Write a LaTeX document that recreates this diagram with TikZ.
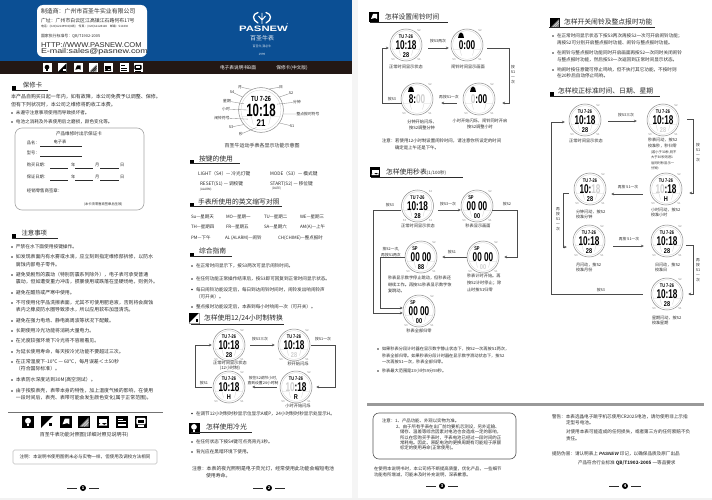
\documentclass[tikz,border=0pt]{standalone}
\usepackage{fontspec}
\usepackage{graphicx}
\usetikzlibrary{arrows.meta,calc}
\setmainfont{Noto Sans CJK SC}
\newfontfamily\lib{Liberation Sans}
\definecolor{hblue}{HTML}{0B4F94}
\definecolor{hblack}{HTML}{231815}
\definecolor{ink}{HTML}{2B2B2B}
\definecolor{wgray}{HTML}{8A8A8A}
\definecolor{flashc}{HTML}{CFCFCF}
\newcommand\fs[1]{\fontsize{#1}{#1}\selectfont}
\newcommand\dg[3]{\scalebox{1}[#2]{\fontsize{#1}{#1}\selectfont\lib\bfseries #3}}
\newcommand\flash[1]{\textcolor{flashc}{#1}}
\newcounter{tn}
\tikzset{
 txt/.style={anchor=west,inner sep=0pt,outer sep=0pt,font=\fs{5},text=ink},
 ctr/.style={txt,anchor=center},
 capt/.style={txt,anchor=center,font=\fs{4.2}},
 lab/.style={txt,anchor=center,font=\fs{3.8}},
 vlab/.style={txt,anchor=center,align=center,font=\fontsize{3.8}{5}\selectfont},
 headt/.style={txt,font=\fs{6.8}},
 wcase/.style={circle,draw=wgray,line width=.5pt,minimum size=32pt,inner sep=0pt},
 wthin/.style={draw=flashc,line width=.3pt},
 dig/.style={inner sep=0pt,outer sep=0pt,text=black},
 slab/.style={txt,anchor=center,font=\fs{2.8},text=wgray},
 flow/.style={draw=ink!85,line width=.8pt,-{Stealth[length=2.8pt,width=2.6pt]}},
 ul/.style={draw=ink,line width=.5pt},
 leader/.style={draw=wgray,line width=.35pt},
 cardbox/.style={draw=black!35,line width=.6pt,rounded corners=7pt},
 fld/.style={draw=ink,line width=.35pt},
}
\newcommand\Tx[4][]{\stepcounter{tn}\node[txt,#1] (t\arabic{tn}) at (#2,#3) {#4};}
\newcommand\Bu[4][]{\stepcounter{tn}\fill[ink] (#2-4,#3) circle[radius=.8pt];\node[txt,#1] (t\arabic{tn}) at (#2,#3) {#4};}
\newcommand\Sq[2]{\fill[black] (#1-1.6,#2-1.6) rectangle (#1+1.6,#2+1.6);}
\newcommand\Hd[7][]{\stepcounter{tn}\node[headt,#1] (t\arabic{tn}) at (#2,#3) {#4};\draw[ul] (#5,#7) -- (#6,#7);}
\newcommand\watchcore[7][1]{\begin{scope}[shift={(#3,#4)},scale=#1,transform shape]
 \node[wcase] (#2) at (0,0) {};
 \draw[wthin] (0,0) circle[radius=14.3pt];
 \draw[wthin] (-14,4.5)--(-7,4.5)--(-5.5,10.5) (14,4.5)--(7,4.5)--(5.5,10.5);
 \node[dig] (#2-t) at (0,-8.2) {\dg{3.9}{1.35}{#5}};
 \node[dig] (#2-m) at (0,.4) {\dg{8.2}{1.55}{#6}};
 \node[dig] (#2-b) at (0,9.6) {\dg{5.6}{1.25}{#7}};
\end{scope}}
\newcommand\watch[6]{\watchcore{#1}{#2}{#3}{#4}{#5}{#6}
 \node[slab] (#1-s2) at (#2+13,#3-15) {S2};
 \node[slab] (#1-s3) at (#2-13,#3+14.5) {S3};
 \node[slab] (#1-s1) at (#2+13,#3+14.5) {S1};}
\newcommand\bellat[2]{\fill[black] (#1-3,#2+2) -- (#1-2,#2-2) .. controls (#1-1.5,#2-4) and (#1+1.5,#2-4) .. (#1+2,#2-2) -- (#1+3,#2+2) -- cycle;}
\newcommand\SP{\hbox to 5.4pt{\fontsize{4}{4}\selectfont\lib\bfseries SP\hfil}\hspace{12pt}}
\newcommand\Pg[3]{\node[circle,fill=black,text=white,inner sep=0pt,minimum size=6pt,font=\fs{4}\bfseries] (pg#1) at (#2,#3) {#1};
 \draw[draw=ink,line width=.4pt] ([xshift=-3pt]pg#1.west) -- ++(-10,0) ([xshift=3pt]pg#1.east) -- ++(10,0);}
\newcommand\Icon[6]{\begin{scope}[shift={(#1,#2)},scale=#3,transform shape]
 \fill[#5] (-5,-5) rectangle (5,5);
 \ifcase#4\or
  \fill[#6] (0,-1) circle[radius=2.6pt]; \fill[#6] (-1.2,1.5) rectangle (1.2,3.6);
 \or
  \fill[#6] (-5,5) -- (5,-5) -- (5,5) -- cycle; \fill[#5] (1.5,1.2) rectangle (4,3.5);
 \or
  \fill[#6] (-3,2) -- (-1,-3) -- (3,-3) -- (3,2) -- (1,1) -- cycle;
 \or
  \fill[#6!55!#5] (-4,4) -- (4,-4) -- (4,4) -- cycle; \draw[#6,line width=.3pt] (-2,4) -- (4,-2) (0,4) -- (4,0);
 \or
  \fill[#6] (-3.5,-2.5) rectangle (3.5,.6); \fill[#6] (-3.5,2) -- (-1.5,.6) -- (1,2.6) -- (3.5,1) -- (3.5,3.2) -- (-3.5,3.2) -- cycle;
 \or
  \fill[#6] (-3.5,-.5) rectangle (3.5,.2); \fill[#6] (-3.5,-2.8) rectangle (1,-2.1); \fill[#6] (-3.5,1.8) rectangle (3.5,3.2);
 \or
  \fill[#6,rounded corners=1pt] (-4,-3.5) rectangle (4,2); \fill[#5] (-2.5,-2) rectangle (2.5,.5); \fill[#6] (-3,3) rectangle (3,4);
 \fi
\end{scope}}
\begin{document}
\begin{tikzpicture}[x=1pt,y=-1pt]
\useasboundingbox (0,0) rectangle (712,500);
\fill[white] (0,0) rectangle (712,500);
\fill[black!4] (352,0) rectangle (358,500);
\fill[black!5] (0,498) rectangle (712,500);
% header
\fill[hblue] (0,0) rectangle (352,61);
\fill[hblack] (0,61) rectangle (352,74);
\node[fill=white,rounded corners=6pt,minimum width=110pt,minimum height=52pt,inner sep=0pt] (addr) at (92,31) {};
\Tx[font=\fs{5.9}]{41}{11}{制造商：广州市百圣牛实业有限公司}
\Tx[font=\fs{4.9}]{41}{20.5}{广址：广州市白云区江高镇江石路何布17号}
\Tx[font=\fs{2.9}]{41}{27}{电话：(020)62149900(8线)　传真：(020)61128128　邮编：510430}
\Tx[font=\fs{3.9}]{41}{36}{国家执行标准号：QB/T1902-2005}
\Tx[font=\fs{7}\lib]{41}{44.5}{\scalebox{1.08}[1]{HTTP://WWW.PASNEW.COM}}
\Tx[font=\fs{7}\lib]{41}{52}{\scalebox{1.27}[1]{E-mail:sales@pasnew.com}}
\foreach \ix/\n in {47/1,62/2,78/3,93/4,108/5,124/6,138/7}{\Icon{\ix}{68}{.9}{\n}{white}{black}}
% logo
\draw[white,line width=1.3pt,line cap=round] (258,12.5) .. controls (252,14) and (252,20) .. (258,23);
\draw[white,line width=1.3pt,line cap=round] (266,12.5) .. controls (272,14) and (272,20) .. (266,23);
\draw[white,line width=.9pt] (262,13) -- (262,24) (258.5,16) -- (262,20) -- (265.5,16);
\node[dig,text=white] (brand) at (263.5,28.5) {\scalebox{1.45}[1]{\fs{7.8}\lib\bfseries PASNEW}};
\Tx[text=white,font=\fs{2.5},anchor=center]{287.5}{24.5}{®}
\Tx[ctr,text=white!90!hblue,font=\fs{6}]{262}{38}{百圣牛表}
\Tx[ctr,text=white!85!hblue,font=\fs{3}]{262}{47}{百圣牛,我必牛}
\Tx[ctr,text=white!85!hblue,font=\fs{3}]{262}{54}{1999}
\Tx[ctr,text=white,font=\fs{4.7}]{238}{67.5}{电子表说明书B面}
\Tx[ctr,text=white,font=\fs{4.7}]{292}{67.5}{保修卡(中文版)}
% page 1
\Sq{14}{88}
\Hd[font=\fs{6.4}]{23}{85}{保修卡}{12}{48}{90.5}
\Tx{11}{97}{本产品自购买日起一年内，如有故障，本公司免费予以调整、保修。}
\Tx{11}{104.5}{但有下列状况时，本公司之维修将酌收工本费。}
\Bu[font=\fs{4.6}]{16}{113}{未遵守注意事项使用而导致损坏者。}
\Bu[font=\fs{4.6}]{16}{122}{电池之消耗及外表使用后之磨损，颜色变化等。}
\node[cardbox,minimum width=129pt,minimum height=82pt,inner sep=0pt] (warranty) at (79.5,169) {};
\Tx[ctr,font=\fs{4.6}]{79}{134}{产品维修时出示保证卡}
\Tx[font=\fs{4.2}]{27}{143}{品名：}
\Tx[ctr,font=\fs{4.2}]{60}{141.5}{电子表}
\Tx[font=\fs{4.2}]{27}{153}{型号：}
\Tx[font=\fs{4.2}]{27}{165}{购买日期：}
\Tx[font=\fs{4.2}]{71}{165}{年}
\Tx[font=\fs{4.2}]{95}{165}{月}
\Tx[font=\fs{4.2}]{120}{165}{日}
\Tx[font=\fs{4.2}]{27}{177}{保证日期：}
\Tx[font=\fs{4.2}]{71}{177}{年}
\Tx[font=\fs{4.2}]{95}{177}{月}
\Tx[font=\fs{4.2}]{120}{177}{日}
\Tx[font=\fs{4.4}]{27}{191}{经销零售商签章：}
\Tx[font=\fs{3.3}]{84}{204}{(本卡须零售商签章后生效)}
\draw[fld] (40,146) -- (82,146) (40,156) -- (82,156)
 (50,168) -- (68,168) (75,168) -- (93,168) (100,168) -- (119,168)
 (50,180) -- (68,180) (75,180) -- (93,180) (100,180) -- (119,180);
\Sq{14}{236}
\Hd[font=\fs{6.4}]{21.5}{233}{注意事项}{12}{58}{238}
\Bu[font=\fs{4.7}]{16}{247}{严禁在水下面使用按键操作。}
\Bu[font=\fs{4.9}]{16}{257}{如发现表面内有水雾或水滴，应立刻到指定维修部拆修，以防水}
\Tx[font=\fs{4.9}]{16}{264.5}{腐蚀内部电子零件。}
\Bu[font=\fs{4.9}]{16}{275}{避免受剧烈的震动（特别防震系列除外），电子表可承受普通}
\Tx[font=\fs{4.9}]{16}{282}{震动，但如遭受重力冲击，掼暴使用或跌落在坚硬场地，则例外。}
\Bu[font=\fs{4.9}]{16}{293}{避免在酷热或严寒中使用。}
\Bu[font=\fs{4.9}]{16}{303}{不可使用化学品洗擦表面，尤其不可使用肥皂液，否则将会腐蚀}
\Tx[font=\fs{4.9}]{16}{310}{表内之橡皮防水圈导致渗水，所以应用软布加湿清洗。}
\Bu[font=\fs{4.9}]{16}{321}{避免在强力电场、静电高周波等状况下配戴。}
\Bu[font=\fs{4.9}]{16}{331}{长期使用冷光功能将消耗大量电力。}
\Bu[font=\fs{4.9}]{16}{341}{在光度较强环境下冷光将不容易看见。}
\Bu[font=\fs{4.9}]{16}{352}{为延长使用寿命，每天按冷光功能不要超过三次。}
\Bu[font=\fs{4.9}]{16}{362}{在正常温度下-10℃ — 60℃，每月误差＜±50秒}
\Tx[font=\fs{4.9}]{16}{369}{（符合国际标准）。}
\Bu[font=\fs{4.9}]{16}{380}{本表防水深度达到30M(高空测试）。}
\Bu[font=\fs{4.9}]{16}{391}{由于按胶表壳，表带本身的特性，加上温度气候的影响，在使用}
\Tx[font=\fs{4.9}]{16}{398}{一段时间后，表壳、表带可能会发生颜色变化(属于正常范围)。}
\draw[draw=black!55,line width=1pt] (8,412.5) -- (163,412.5);
\foreach \ix/\n in {28/1,47/2,66/3,84/4,103/5,122/6,141/7}{\Icon{\ix}{422}{1.15}{\n}{black}{white}}
\Tx[ctr,font=\fs{5}]{84}{434.5}{百圣牛表功能对照图(详细对照见说明书)}
\node[draw=black!25,line width=.6pt,rounded corners=1.5pt,minimum width=144pt,minimum height=14pt,inner sep=0pt] (note1) at (85,457) {};
\Tx[ctr,font=\fs{4.5}]{85}{457}{注明：本说明书使用图例未必与实物一样，但使用及调校方法相同}
\Pg{1}{83}{488}
% page 2 main watch
\watchcore[1.4]{mw}{261}{110}{TU 7-26}{10:18}{21}
\node[lab] (ma) at (240,87) {月};
\node[lab] (mb) at (281,87) {日};
\node[lab] (mc) at (232,92) {S4};
\node[lab] (md) at (291,93) {S2};
\node[lab] (me) at (227,101) {星期};
\node[lab] (mf) at (297,102) {分钟};
\node[lab] (mg) at (226,109) {小时};
\node[lab] (mh) at (308,114) {整点报时符号};
\node[lab] (mi) at (222,118) {闹铃符号};
\node[lab] (mj) at (231,127) {S3};
\node[lab] (mk) at (292,126) {S1};
\node[lab] (ml) at (241,134) {秒};
\draw[leader] (ma) -- (mw.115) (mb) -- (mw.68) (mc) -- (mw.145) (md) -- (mw.35) (me) -- ($(mw.center)!.8!(mw.160)$) (mf) -- ($(mw.center)!.75!(mw.20)$)
 (mg) -- ($(mw.center)!.6!(mw.180)$) (mh) -- (mw.-10) (mi) -- ($(mw.center)!.7!(mw.215)$) (mj) -- (mw.220) (mk) -- (mw.-35) (ml) -- ($(mw.center)!.8!(mw.255)$);
\Tx[ctr,font=\fs{5}]{262}{146}{百圣牛运动手表各显示功能示意图}
\Sq{192}{162}
\Hd{199}{159}{按键的使用}{190}{240}{163.5}
\Tx[font=\fs{4.7}]{198}{174}{LIGHT（S4）— 冷光灯键}
\Tx[font=\fs{4.7}]{270}{174}{MODE（S3）— 模式键}
\Tx[font=\fs{4.7}]{200}{184}{RESET(S1) — 调校键}
\Tx[font=\fs{3}]{200}{190}{(ALARM)}
\Tx[font=\fs{4.7}]{270}{184}{START(S2) — 移位键}
\Tx[font=\fs{3}]{272}{189}{(DATE)}
\Sq{192}{205}
\Hd{198}{202}{手表所使用的英文缩写对照}{190}{282}{206.5}
\Tx[font=\fs{4.5}]{191}{217}{Su—星期天}
\Tx[font=\fs{4.5}]{226}{217}{MO—星期一}
\Tx[font=\fs{4.5}]{264}{217}{TU—星期二}
\Tx[font=\fs{4.5}]{300}{217}{WE—星期三}
\Tx[font=\fs{4.5}]{191}{227}{TH—星期四}
\Tx[font=\fs{4.5}]{226}{227}{FR—星期五}
\Tx[font=\fs{4.5}]{264}{227}{SA—星期六}
\Tx[font=\fs{4.5}]{300}{227}{AM(A)—上午}
\Tx[font=\fs{4.5}]{191}{238}{PM—下午}
\Tx[font=\fs{4.5}]{225}{238}{AL (ALARM)—闹铃}
\Tx[font=\fs{4.5}]{278}{238}{CH(CHIME)—整点报时}
\Sq{192}{254.5}
\Hd{199}{251}{综合指南}{190}{232}{256}
\Bu[font=\fs{4.6}]{196}{266}{在正常时间显示下，按S3两次可显示闹铃时间。}
\Bu[font=\fs{4.6}]{196}{279}{在任何功能正常操作结束后，按S3即可回复到正常时间显示状态。}
\Bu[font=\fs{4.6}]{196}{289.5}{每日闹铃功能设定后，每日到达闹铃时间时，闹铃发出响闹铃声}
\Tx[font=\fs{4.6}]{196}{297}{（可开关）。}
\Bu[font=\fs{4.6}]{196}{307}{整点报时功能设定后，本表到每小时响闹一次（可开关）。}
\Icon{194}{318}{1.1}{2}{black}{white}
\Hd{204}{318}{怎样使用12/24小时制转换}{191}{284}{324}
\watch{a1}{229}{345}{TU 7-26}{10:18}{28}
\watch{a2}{294}{345}{TU 7-26}{10:18}{\flash{28}}
\watch{a3}{296}{387}{TU 7-26}{\flash{10}:18}{R}
\watch{a4}{229}{387}{TU 7-26}{10:18}{H}
\Tx[capt]{230}{362.5}{正常时间显示状态}
\Tx[capt]{230}{368}{(12小时制)}
\Tx[capt]{298}{364}{秒开始闪烁}
\Tx[capt]{298}{406}{小时开始闪烁}
\Tx[lab]{260}{339}{按S3三次}
\Tx[lab]{323}{339}{按S1一次}
\Tx[lab]{263}{378}{按住S2调节小时,}
\Tx[lab]{263}{383}{直到设置24小时制}
\Tx[lab]{204}{383}{按S1}
\draw[flow] ([xshift=5pt]a1.east) -- ([xshift=-3pt]a2.west);
\draw[flow] ([xshift=1pt]a2.east) -- (335,345) |- ([xshift=4pt]a3.east);
\draw[flow] ([xshift=-3pt]a3.west) -- ([xshift=7pt]a4.east);
\draw[flow] ([xshift=-1pt]a4.west) -- (195,387) |- ([xshift=-1pt]a1.west);
\Bu[font=\fs{4.6}]{196}{413.5}{在调节12小时制时秒显示位显示A或P，24小时制时秒显示处显示H。}
\Icon{194}{428}{1.1}{1}{black}{white}
\Hd{206}{427}{怎样使用冷光}{191}{252}{432}
\Bu[font=\fs{4.6}]{196}{442}{在任何状态下按S4键可点亮背光3秒。}
\Bu[font=\fs{4.6}]{196}{452}{背光应在黑暗环境下使用。}
\Tx[font=\fs{4.9}]{192}{469}{注意：本表的夜光照明是电子荧光灯，经常使用此功能会缩短电池}
\Tx[font=\fs{4.9}]{206}{476}{使用寿命。}
\Pg{2}{269}{488}
% page 3 alarm
\Icon{374}{17}{1}{3}{black}{white}
\Hd{385}{17}{怎样设置闹铃时间}{370}{448}{22}
\watch{b1}{406}{45}{TU 7-26}{10:18}{28}
\watch{b2}{467}{45}{}{0:00}{}
\watch{b3}{479}{99}{}{\flash{0}:00}{}
\watch{b4}{417}{99}{}{8:\flash{00}}{}
\bellat{461}{36}\bellat{473}{90}\bellat{411}{90}
\Tx[capt]{406}{67}{正常时间显示状态}
\Tx[capt]{468}{67}{闹铃时间显示画面}
\Tx[capt]{480}{120.5}{小时开始闪烁，闹铃同时开启}
\Tx[capt]{480}{127}{按S2调整小时}
\Tx[capt]{422}{122}{分钟开始闪烁，}
\Tx[capt]{422}{128}{按S2调整分钟}
\Tx[lab]{438}{41}{按S3两次}
\Tx[vlab]{513}{75}{按\\S1\\一\\次}
\Tx[lab]{449}{97}{再按S1一次}
\Tx[lab]{392}{99}{按S3}
\draw[flow] ([shift={(6pt,-3pt)}]b1.east) -- ([shift={(-2pt,-3pt)}]b2.west);
\draw[flow] ([shift={(4pt,-3pt)}]b2.east) -- (509,48) |- ([shift={(7pt,-4pt)}]b3.east);
\draw[flow] ([shift={(-6pt,-4pt)}]b3.west) -- ([shift={(8pt,-4pt)}]b4.east);
\draw[flow] ([shift={(1pt,-4pt)}]b4.west) -- (382,103) |- ([shift={(-1pt,-3pt)}]b1.west);
\Tx[font=\fs{4.4}]{382}{141}{注意：若使用12小时制设置闹铃时间，请注意你所设定的时间}
\Tx[font=\fs{4.4}]{395}{148}{确定是上午还是下午。}
% stopwatch
\Icon{375}{172}{1}{5}{black}{white}
\Hd{386}{172}{怎样使用秒表\fs{4.5}(1/100秒)}{371}{463}{177}
\watch{c1}{417.5}{206}{TU 7-26}{10:18}{28}
\watch{c2}{477}{206}{\SP}{00 00}{00}
\watch{c3}{483}{257}{\SP}{00 00}{\flash{00}}
\watch{c4}{421}{257}{\SP}{00 00}{88}
\watch{c5}{419}{311}{\SP}{00 00}{00}
\Tx[capt]{418}{226}{正常时间显示状态}
\Tx[capt]{478}{226}{秒表显示画面}
\Tx[font=\fs{4.2}]{388}{278}{秒表显示数字停止跳动，但秒表还}
\Tx[font=\fs{4.2}]{388}{284.5}{继续工作。再按S1秒表显示数字恢}
\Tx[font=\fs{4.2}]{388}{291}{复跳动。}
\Tx[font=\fs{4.2}]{467}{276}{秒表计时开始。再}
\Tx[font=\fs{4.2}]{467}{283}{按S2计时停止；除}
\Tx[font=\fs{4.2}]{467}{290}{止时按S1归零}
\Tx[capt]{419}{331}{秒表全部归零}
\Tx[lab]{448}{204}{按S3一次}
\Tx[lab]{507}{204}{按S2}
\Tx[lab]{452}{252}{按S1}
\Tx[lab]{390}{205}{按S3}
\Tx[lab]{391}{249}{按S2一次,}
\Tx[lab]{391}{255}{再按S1两次}
\draw[flow] ([shift={(4pt,-4pt)}]c1.east) -- ([shift={(0pt,-4pt)}]c2.west);
\draw[flow] ([shift={(-1pt,-4pt)}]c2.east) -- (517,210) |- ([xshift=5pt]c3.east);
\draw[flow] ([xshift=-0pt]c3.west) -- ([xshift=5pt]c4.east);
\draw[flow] ([yshift=-4pt]c1.west) -- (373,210) |- ([shift={(-0pt,-2pt)}]c5.west);
\draw[flow] ([xshift=-0pt]c4.west) -- (380,257) |- ([shift={(0pt,3pt)}]c5.west);
\Bu[font=\fs{4.2}]{382}{349}{如果秒表分段计时器在显示数字静止状态下，按S2一次再按S1两次，}
\Tx[font=\fs{4.2}]{382}{355.5}{秒表全部归零。如果秒表分段计时器在显示数字滑动状态下，按S2}
\Tx[font=\fs{4.2}]{382}{361.5}{一次再按S1一次，秒表全部归零。}
\Bu[font=\fs{4.2}]{382}{371}{秒表最大范围是23小时59分59秒。}
\draw[draw=black!40,line width=2.4pt] (367,404.5) -- (704,404.5);
\node[draw=ink!80,line width=.6pt,rounded corners=6pt,minimum width=143pt,minimum height=46pt,inner sep=0pt] (note3) at (444.5,436) {};
\Tx[font=\fs{4.4}]{382}{421}{注意：1、产品功能、外观以实物为准。}
\Tx[font=\fs{4.4}]{396}{426.5}{2、由于所有手表在出厂前均要机芯测设，另外运输、}
\Tx[font=\fs{4.4}]{400}{432}{储存、温差等综合因素对电池也会造成一定的影响，}
\Tx[font=\fs{4.4}]{400}{437.5}{所以在您购买手表时，手表电池已经过一段时间的正}
\Tx[font=\fs{4.4}]{400}{443}{常耗电。因此，原配电池的更换周期有可能短于原额}
\Tx[font=\fs{4.4}]{400}{448.5}{标定的使用寿命(正常使用)。}
\Tx[font=\fs{4.4}]{374}{469}{在使用本说明书时，本公司将不断提高质量，优化产品，一些细节}
\Tx[font=\fs{4.4}]{374}{475}{功能有所增减，可能未及时补充说明，深表歉意。}
\Pg{3}{442}{486}
% page 4
\Icon{555}{23}{1}{4}{black}{white}
\Hd{564}{22}{怎样开关闹铃及整点报时功能}{549}{655}{27}
\Bu[font=\fs{4.6}]{557}{36}{在正常时间显示状态下按S3两次再按S2一次可开启闹铃功能；}
\Tx[font=\fs{4.6}]{557}{43}{再按S2可分别开启整点报时功能、闹铃与整点报时功能。}
\Bu[font=\fs{4.6}]{557}{53}{在闹铃与整点报时功能同时开启画面再按S2一次同时关闭闹铃}
\Tx[font=\fs{4.6}]{557}{60}{与整点报时功能，然后按S3一次返回到正常时间显示状态。}
\Bu[font=\fs{4.6}]{557}{70}{响闹时按任意键可停止鸣响，但不执行其它功能，不按时则}
\Tx[font=\fs{4.6}]{557}{76}{在20秒后自动停止鸣响。}
\Sq{552}{94}
\Hd{558}{91}{怎样校正标准时间、日期、星期}{550}{660}{96}
\watch{d1}{585}{120}{TU 7-26}{10:18}{28}
\watch{d2}{663}{120}{TU 7-26}{10:18}{\flash{28}}
\watch{d3}{666}{189}{TU 7-26}{\flash{10}:18}{H}
\watch{d4}{590}{189}{TU 7-26}{10:\flash{18}}{28}
\watch{d5}{589}{241}{TU 7-26}{10:18}{28}
\watch{d6}{667}{241}{TU 7-26}{10:18}{28}
\watch{d7}{667}{294}{TU 7-26}{10:18}{28}
\Tx[capt]{586}{141}{正常时间显示状态}
\Tx[font=\fs{4.1}]{648}{140}{秒表闪动，按S2}
\Tx[font=\fs{4.1}]{648}{146}{校准秒，秒归零}
\Tx[font=\fs{3.3}]{651}{152}{(若小于30秒,则不}
\Tx[font=\fs{3.3}]{651}{157.5}{大于30秒则进1}
\Tx[font=\fs{3.3}]{651}{163}{后同时秒显示一}
\Tx[font=\fs{3.3}]{651}{168}{分钟)}
\Tx[font=\fs{4.1}]{576}{211.5}{分钟闪动，按S2}
\Tx[font=\fs{4.1}]{576}{216.5}{校准分钟}
\Tx[font=\fs{4.1}]{651}{210}{小时闪动，按S2}
\Tx[font=\fs{4.1}]{651}{215}{校准小时}
\Tx[font=\fs{4.1}]{576}{265}{月闪动，按S2}
\Tx[font=\fs{4.1}]{576}{270}{校准月份}
\Tx[font=\fs{4.1}]{655}{265}{日闪动，按S2}
\Tx[font=\fs{4.1}]{655}{270}{校准日}
\Tx[font=\fs{4.1}]{652}{318}{星期闪动，按S2}
\Tx[font=\fs{4.1}]{652}{323}{校准星期}
\Tx[lab]{626}{115}{按S3三次}
\Tx[vlab]{698}{153}{按\\S1\\一\\次}
\Tx[lab]{628}{187}{再按 S1一次}
\Tx[vlab]{558}{219}{再\\按\\S1\\一\\次}
\Tx[lab]{629}{239}{再按 S1一次}
\Tx[vlab]{698}{270}{再\\按\\S1\\一\\次}
\Tx[lab]{601}{290}{按S3}
\draw[flow] ([shift={(7pt,-1pt)}]d1.east) -- ([shift={(-10pt,-1pt)}]d2.west);
\draw[flow] ([shift={(8pt,1pt)}]d2.east) -- (693,119) |- ([shift={(7pt,-4pt)}]d3.east);
\draw[flow] ([shift={(-7pt,-5pt)}]d3.west) -- ([shift={(5pt,-5pt)}]d4.east);
\draw[flow] ([shift={(-5pt,-4pt)}]d4.west) -- (563,193) |- ([shift={(-6pt,-6pt)}]d5.west);
\draw[flow] ([shift={(8pt,-5pt)}]d5.east) -- ([shift={(-7pt,-5pt)}]d6.west);
\draw[flow] ([shift={(3pt,-4pt)}]d6.east) -- (693,245) |- ([xshift=5pt]d7.east);
\draw[flow] ([xshift=-8pt]d7.west) -- (551,294) |- ([shift={(-4pt,-2pt)}]d1.west);
\Tx[font=\fs{4.6}]{552}{417}{警告：本表选晶电子跳字机芯使用CR2025电池，请勿使用非上示指}
\Tx[font=\fs{4.6}]{566}{423}{定型号电池。}
\Tx[font=\fs{4.6}]{566}{432}{对使用本表可能造成的任何损失，或者第三方的任何索赔不负}
\Tx[font=\fs{4.6}]{566}{439}{责任。}
\Tx[font=\fs{4.6}]{552}{453.5}{提防伪冒：请认明表上 {\lib\bfseries\itshape PASNEW} 印记，以确保品质及原厂出品}
\Tx[font=\fs{4.6}]{578}{463}{产品符合行业标准 {\bfseries QB/T1902-2005} 一等品要求}
\Pg{4}{625}{486}
\end{tikzpicture}
\end{document}
